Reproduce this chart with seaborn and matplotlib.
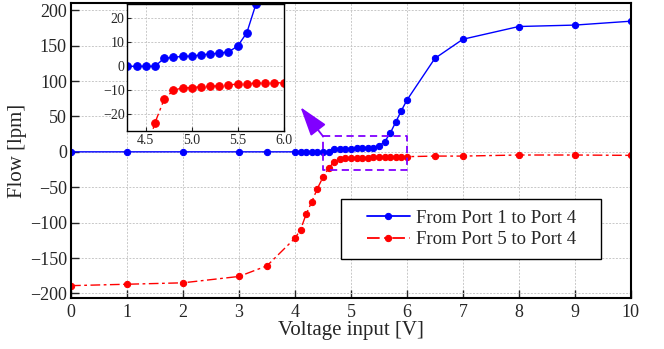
import matplotlib
matplotlib.use("Agg")
import matplotlib.pyplot as plt
from matplotlib.patches import Rectangle
import seaborn as sns
import numpy as np
import pandas as pd

# voltage steps
volt = [0, 1, 2, 3, 3.5, 4.0, 4.1, 4.2, 4.3, 4.4, 4.5, 4.6, 4.7, 4.8, 4.9, 5.0,
        5.1, 5.2, 5.3, 5.4, 5.5, 5.6, 5.7, 5.8, 5.9, 6.0, 6.5, 7, 8, 9, 10]

# From Port 1 to Port 4
flow_p1 = [0, 0, 0, 0, 0, 0, 0, 0, 0, 0, 0, 0, 3.4, 3.7, 4.2, 4.2,
           4.8, 5.1, 5.5, 6.0, 8.4, 14, 26, 42, 58, 73, 132, 159, 177, 179, 184.5]

# From Port 5 to Port 4
flow_p5 = [-189, -187, -185, -176, -161, -122, -110, -88, -70.6, -52, -36, -23.5, -13.7, -10, -9.0, -8.9,
           -8.5, -8.4, -8.1, -7.8, -7.4, -7.3, -7.0, -7.0, -7.0, -6.8, -6.0, -6.0, -4.5, -4.5, -5.0]

labels = ["From Port 1 to Port 4", "From Port 5 to Port 4"]

df = pd.DataFrame({"volt": volt, "p1": flow_p1, "p5": flow_p5})

sns.set_style("ticks")
plt.rcParams["font.family"] = ["Liberation Serif", "DejaVu Serif"]

blue = "#0000ff"
red = "#ff0000"
purple = "#8000ff"
dashdot = (0, (7, 2.5, 2, 2.5))


def draw_series(ax, ms, lw, leg=True):
    sns.lineplot(data=df, x="volt", y="p1", ax=ax, color=blue, marker="o", markersize=ms,
                 markeredgecolor=blue, linewidth=lw, label=labels[0] if leg else None)
    sns.lineplot(data=df, x="volt", y="p5", ax=ax, color=red, marker="o", markersize=ms,
                 markeredgecolor=red, linewidth=lw, linestyle=dashdot,
                 label=labels[1] if leg else None)


fig = plt.figure(figsize=(6.64, 3.49), dpi=100)
ax = fig.add_axes([0.107, 0.145, 0.843, 0.846])

draw_series(ax, 4.5, 1.0)
ax.set_xlim(0, 10)
ax.set_ylim(-207, 210)
ax.set_xticks(range(0, 11))
ax.set_yticks(range(-200, 201, 50))
ax.grid(True, color="#c8c8c8", linestyle=(0, (2, 1.5)), linewidth=0.7)
ax.tick_params(direction="in", length=6, width=1.0, labelsize=13, pad=3)
ax.tick_params(axis="x", pad=4)
ax.set_xlabel("Voltage input [V]", fontsize=15, labelpad=0)
ax.set_ylabel("Flow [lpm]", fontsize=15, labelpad=2)
for s in ax.spines.values():
    s.set_linewidth(1.5)
    s.set_color("black")

# zoom box and arrow
ax.plot([4.5, 6.0, 6.0, 4.5, 4.5], [22, 22, -25, -25, 22], color=purple,
        linestyle=(0, (4, 2.5)), linewidth=1.3)
ax.annotate("", xy=(4.10, 63), xytext=(4.5, 22),
            arrowprops=dict(arrowstyle="-|>,head_length=1.3,head_width=0.42",
                            color=purple, linewidth=1.3, mutation_scale=14,
                            shrinkA=0, shrinkB=0))

# legend with a wider box
ax.add_patch(Rectangle((0.483, 0.132), 0.463, 0.204, transform=ax.transAxes,
                       facecolor="white", edgecolor="black", linewidth=1.0, zorder=4))
leg = ax.legend(loc="center", bbox_to_anchor=(0.715, 0.235), fontsize=13.5,
                frameon=False, handlelength=2.3, handletextpad=0.3,
                borderpad=0.3, labelspacing=0.25)
leg.set_zorder(5)
for h in leg.get_lines():
    h.set_linewidth(1.3)

# inset
axin = fig.add_axes([0.192, 0.6246, 0.235, 0.364])
draw_series(axin, 5.5, 1.0, leg=False)
axin.set_xlim(4.3, 6.0)
axin.set_ylim(-27, 26)
axin.set_xticks([4.5, 5.0, 5.5, 6.0])
axin.set_xticklabels(["4.5", "5.0", "5.5", "6.0"])
axin.set_yticks([-20, -10, 0, 10, 20])
axin.set_xlabel("")
axin.set_ylabel("")
axin.grid(True, color="#c8c8c8", linestyle=(0, (2, 1.5)), linewidth=0.7)
axin.tick_params(direction="in", length=3, width=0.8, labelsize=10, pad=2)
axin.set_facecolor("white")
for s in axin.spines.values():
    s.set_linewidth(1.0)
    s.set_color("black")

fig.savefig("out.png", dpi=100)
